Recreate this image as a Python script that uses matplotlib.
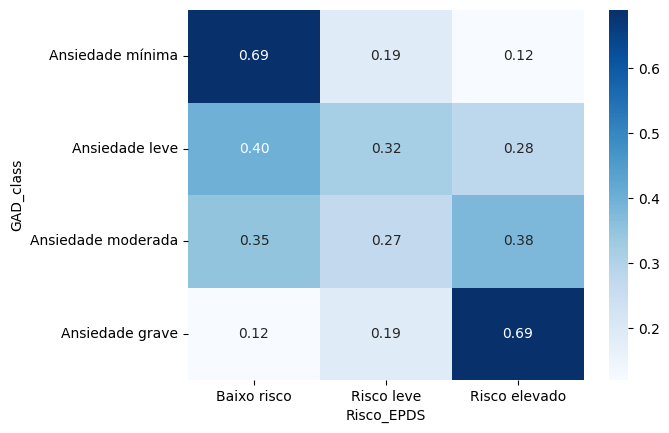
import matplotlib
matplotlib.use("Agg")
import matplotlib.pyplot as plt
import seaborn as sns
import numpy as np
import pandas as pd

rows = ["Ansiedade mínima", "Ansiedade leve", "Ansiedade moderada", "Ansiedade grave"]
cols = ["Baixo risco", "Risco leve", "Risco elevado"]
values = [
    [0.69, 0.19, 0.12],
    [0.40, 0.32, 0.28],
    [0.35, 0.27, 0.38],
    [0.12, 0.19, 0.69],
]

df = pd.DataFrame(values, index=rows, columns=cols)
df.index.name = "GAD_class"
df.columns.name = "Risco_EPDS"

fig = plt.figure(figsize=(6.69, 4.33), dpi=100)
ax = fig.add_axes([0.281, 0.1224, 0.592, 0.8545])
cax = fig.add_axes([0.9107, 0.1224, 0.028, 0.8545])
sns.heatmap(df, annot=True, fmt=".2f", cmap="Blues", ax=ax, cbar_ax=cax)
ax.set_yticklabels(ax.get_yticklabels(), rotation=0)
fig.savefig("out.png", dpi=100)
